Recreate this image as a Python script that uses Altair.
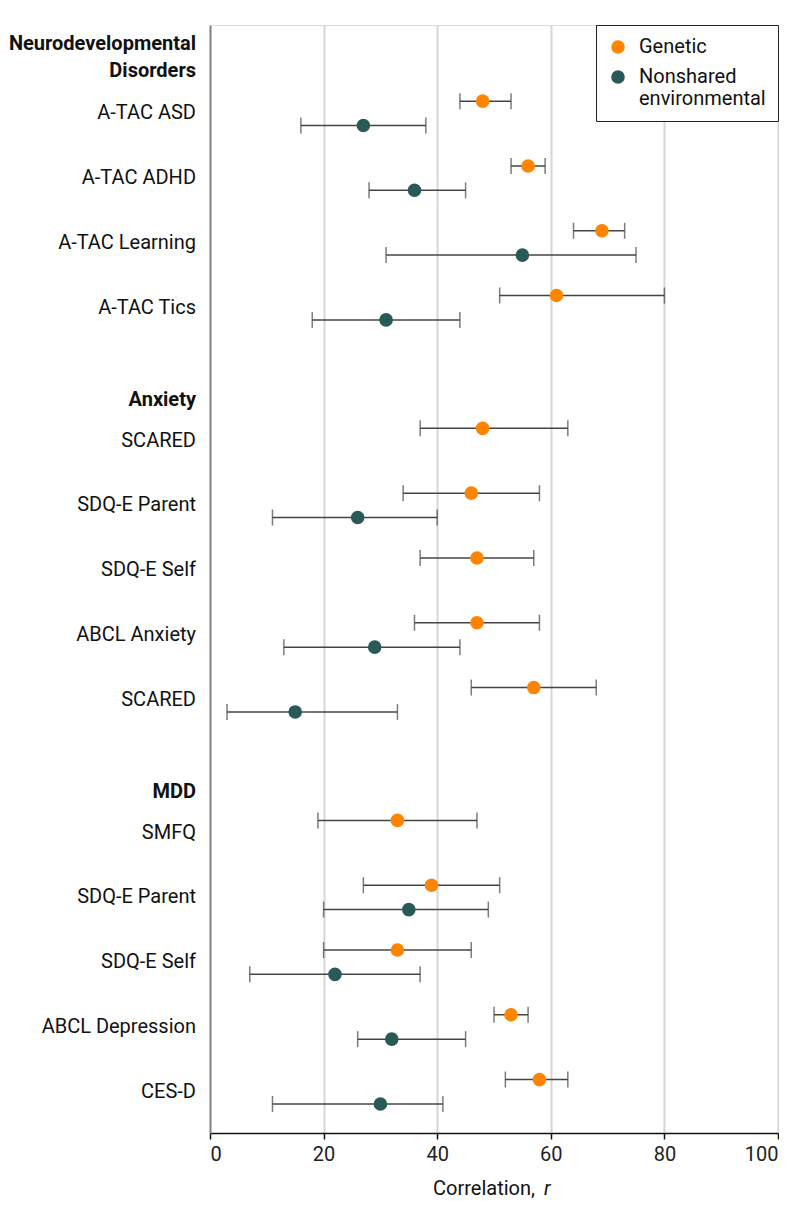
import altair as alt
import pandas as pd

# ---------------- data ----------------
groups = ["Neurodevelopmental\nDisorders", "Anxiety", "MDD"]
measures = ["A-TAC ASD", "A-TAC ADHD", "A-TAC Learning", "A-TAC Tics",
            "SCARED", "SDQ-E Parent", "SDQ-E Self", "ABCL Anxiety", "SCARED",
            "SMFQ", "SDQ-E Parent", "SDQ-E Self", "ABCL Depression", "CES-D"]
measure_group = [0, 0, 0, 0, 1, 1, 1, 1, 1, 2, 2, 2, 2, 2]

gen_r = [48, 56, 69, 61, 48, 46, 47, 47, 57, 33, 39, 33, 53, 58]
gen_lo = [44, 53, 64, 51, 37, 34, 37, 36, 46, 19, 27, 20, 50, 52]
gen_hi = [53, 59, 73, 80, 63, 58, 57, 58, 68, 47, 51, 46, 56, 63]

env_r = [27, 36, 55, 31, None, 26, None, 29, 15, None, 35, 22, 32, 30]
env_lo = [16, 28, 31, 18, None, 11, None, 13, 3, None, 20, 7, 26, 11]
env_hi = [38, 45, 75, 44, None, 40, None, 44, 33, None, 49, 37, 45, 41]

series = ["Genetic", "Nonshared environmental"]
colors = ["#FF8400", "#2A5A57"]
x_ticks = [0, 20, 40, 60, 80, 100]

# ---------------- layout helpers (derived from row order) ----------------
GAP = 1.05      # extra row units between groups
OFF = 0.188     # vertical offset of the two series within a row
LINE = 0.43     # header line height in row units

row_pos = [i + GAP * g for i, g in enumerate(measure_group)]

pts = []
for i, m in enumerate(measures):
    pts.append(dict(measure=m, series=series[0], r=gen_r[i], lo=gen_lo[i],
                    hi=gen_hi[i], y=row_pos[i] - OFF))
    if env_r[i] is not None:
        pts.append(dict(measure=m, series=series[1], r=env_r[i], lo=env_lo[i],
                        hi=env_hi[i], y=row_pos[i] + OFF))
pts = pd.DataFrame(pts)

labels = pd.DataFrame(dict(text=measures, y=row_pos))

hdr = []
for g, name in enumerate(groups):
    first = row_pos[measure_group.index(g)]
    n = len(name.split("\n"))
    hdr.append(dict(text=name, y=first - 0.633 - (n - 1) * LINE))
hdr = pd.DataFrame(hdr)

FONT = "Roboto"
W, H = 568, 1108
ydom = [-1.363, 15.736]

xs = alt.Scale(domain=[0, 100], nice=False)
ys = alt.Scale(domain=ydom, reverse=True, nice=False, zero=False)

base = alt.Chart(pts)

x_axis = alt.Axis(values=x_ticks, grid=True, gridColor="#d6d6d6", gridWidth=2,
                  domainColor="#111", domainWidth=1.5, tickColor="#111",
                  tickWidth=1.5, tickSize=6, labelFont=FONT, labelFontSize=20,
                  labelColor="#222", labelPadding=5, title=None)
y_axis = alt.Axis(labels=False, ticks=False, grid=False, domainColor="#888",
                  domainWidth=2, title=None)

bars = base.mark_rule(color="#444", strokeWidth=1.5).encode(
    x=alt.X("lo:Q", scale=xs, axis=x_axis),
    x2="hi:Q",
    y=alt.Y("y:Q", scale=ys, axis=y_axis),
)
cap_lo = base.mark_tick(orient="vertical", size=16, thickness=1.5, color="#444").encode(
    x=alt.X("lo:Q", scale=xs), y=alt.Y("y:Q", scale=ys))
cap_hi = base.mark_tick(orient="vertical", size=16, thickness=1.5, color="#444").encode(
    x=alt.X("hi:Q", scale=xs), y=alt.Y("y:Q", scale=ys))

dots = base.mark_circle(size=185, opacity=1).encode(
    x=alt.X("r:Q", scale=xs),
    y=alt.Y("y:Q", scale=ys),
    color=alt.Color("series:N",
                    scale=alt.Scale(domain=series, range=colors),
                    legend=alt.Legend(
                        title=None, orient="top-right", offset=0,
                        fillColor="white", strokeColor="#222", padding=12,
                        symbolType="circle", symbolSize=185, symbolStrokeWidth=0,
                        symbolOpacity=1, labelFont=FONT, labelFontSize=20,
                        labelColor="#111", labelOffset=11, rowPadding=10,
                        labelLimit=300,
                        labelExpr="datum.label == 'Nonshared environmental' ? ['Nonshared', 'environmental'] : datum.label",
                    )),
)

row_text = alt.Chart(labels).mark_text(
    align="right", baseline="middle", font=FONT, fontSize=20, color="#111"
).encode(x=alt.value(-14), y=alt.Y("y:Q", scale=ys), text="text:N")

hdr_text = alt.Chart(hdr).mark_text(
    align="right", baseline="middle", font=FONT, fontSize=20, fontWeight="bold",
    color="#111", lineBreak="\n", lineHeight=27
).encode(x=alt.value(-14), y=alt.Y("y:Q", scale=ys), text="text:N")

title_a = alt.Chart(pd.DataFrame({"t": ["Correlation,"]})).mark_text(
    align="right", baseline="alphabetic", font=FONT, fontSize=20, color="#111"
).encode(x=alt.value(325), y=alt.value(1170), text="t:N")
title_b = alt.Chart(pd.DataFrame({"t": ["r"]})).mark_text(
    align="left", baseline="alphabetic", font=FONT, fontSize=20, fontStyle="italic",
    color="#111"
).encode(x=alt.value(334), y=alt.value(1170), text="t:N")

chart = alt.layer(bars, cap_lo, cap_hi, dots, row_text, hdr_text, title_a, title_b).properties(
    width=W, height=H,
    padding={"left": 0, "top": 16, "right": 0, "bottom": 0},
).configure_view(stroke=None).configure(background="white")

chart.save("out.html", embed_options={"renderer": "svg", "actions": False})
